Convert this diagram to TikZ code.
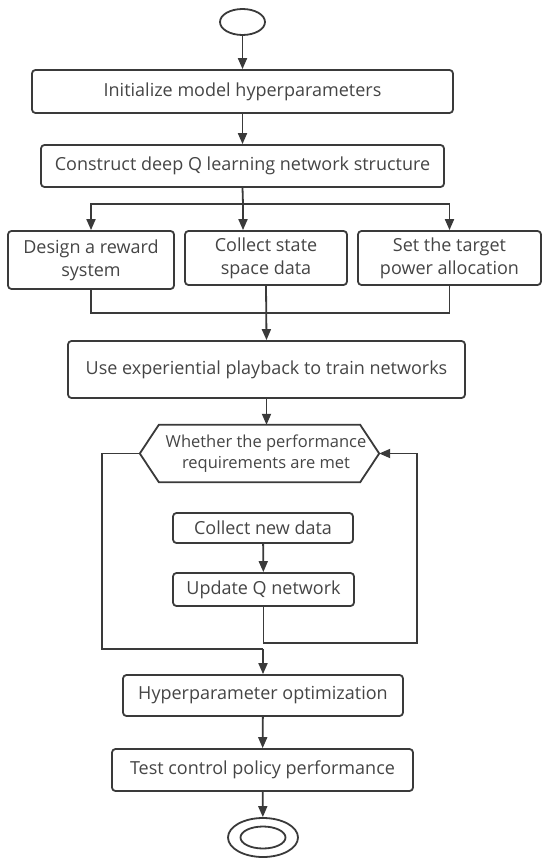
\documentclass[tikz,border=0pt]{standalone}
\usepackage{fontspec}
\setmainfont{Open Sans}
\usetikzlibrary{arrows.meta,shapes.geometric}
\definecolor{ln}{HTML}{3A3A3A}
\definecolor{tx}{HTML}{454545}
\begin{document}
\begin{tikzpicture}[x=1pt,y=-1pt,
  every node/.style={font=\fontsize{18}{23}\selectfont,text=tx},
  proc/.style={draw=ln,line width=1.8pt,rounded corners=3.5pt,align=center,inner sep=0pt},
  arr/.style={draw=ln,line width=1.8pt,-{Triangle[length=11pt,width=9pt]}},
  ln/.style={draw=ln,line width=1.8pt}]
\useasboundingbox (0,0) rectangle (550,866);
\fill[white] (0,0) rectangle (550,866);
\node[ellipse,draw=ln,line width=1.8pt,minimum width=45pt,minimum height=26pt,inner sep=0pt] (start) at (242.5,22) {};
\node[proc,minimum width=421pt,minimum height=43pt] (b1) at (242.5,91.5) {Initialize model hyperparameters};
\node[proc,minimum width=403pt,minimum height=42pt] (b2) at (242.5,166) {Construct deep Q learning network structure};
\node[proc,minimum width=166pt,minimum height=58pt] (b3a) at (91,260) {Design a reward\\system};
\node[proc,minimum width=162pt,minimum height=54pt] (b3b) at (266,258) {Collect state\\space data};
\node[proc,minimum width=183pt,minimum height=54pt] (b3c) at (449.5,258) {Set the target\\power allocation};
\node[proc,minimum width=397pt,minimum height=57pt] (b4) at (266.5,369.5) {Use experiential playback to train networks};
\node[minimum width=239pt,minimum height=57pt,inner sep=0pt] (dec) at (259.5,453.5) {};
\draw[ln,line join=miter] ([xshift=19pt]dec.north west) -- ([xshift=-19pt]dec.north east) -- (dec.east) -- ([xshift=-19pt]dec.south east) -- ([xshift=19pt]dec.south west) -- (dec.west) -- cycle;
\node[align=center,font=\fontsize{16.5}{21}\selectfont,inner sep=0pt] (dectxt) at ([xshift=6.5pt]dec.center) {Whether the performance\\requirements are met};
\node[proc,minimum width=180pt,minimum height=30pt] (c1) at (263,528) {Collect new data};
\node[proc,minimum width=181pt,minimum height=33pt] (c2) at (263.5,589.5) {Update Q network};
\node[proc,minimum width=280pt,minimum height=41pt] (h) at (263,695.5) {Hyperparameter optimization};
\node[proc,minimum width=301pt,minimum height=42pt] (t) at (262.5,770) {Test control policy performance};
\node[ellipse,draw=ln,line width=1.8pt,minimum width=70pt,minimum height=39pt,inner sep=0pt] (endo) at (263,837.5) {};
\node[ellipse,draw=ln,line width=1.8pt,minimum width=45pt,minimum height=22pt,inner sep=0pt] (endi) at (263,837.5) {};
\coordinate (sp) at (243,204);
\coordinate (mg) at (266,313);
\coordinate (lf) at (102,649);
\coordinate (jn) at (263,649);
\coordinate (rt) at (417,643);
\draw[arr] (start) -- (b1);
\draw[arr] (b1) -- (b2);
\draw[ln] (b2.south) -- (sp);
\draw[arr] (sp) -| (b3a.north);
\draw[arr] (sp) -| (b3c.north);
\draw[arr] (sp) -- (sp |- b3b.north);
\draw[ln] (b3a.south) |- (mg);
\draw[ln] (b3c.south) |- (mg);
\draw[arr] (b3b.south) -- (b4.north);
\draw[arr] (b4.south) -- (b4.south |- dec.north);
\draw[ln] (dec.west) -| (lf) -- (jn);
\draw[arr] (jn) -- (h.north);
\draw[arr] (c1) -- (c2);
\draw[arr] (c2.south) |- (rt) |- (dec.east);
\draw[arr] (h) -- (t);
\draw[arr] (t) -- (endo);
\end{tikzpicture}
\end{document}
